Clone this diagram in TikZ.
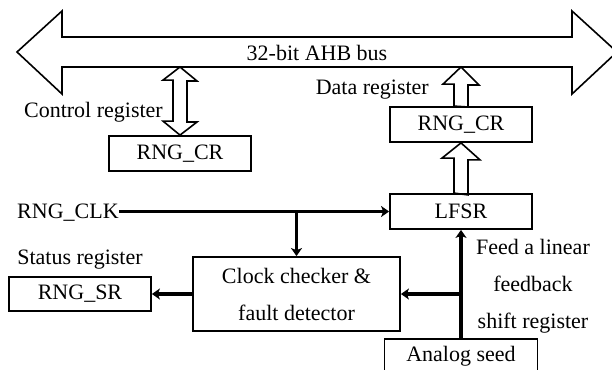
\documentclass[tikz,border=0pt]{standalone}
\usepackage{fontspec}
\setmainfont{Liberation Serif}
\usetikzlibrary{arrows.meta, positioning, calc}

\begin{document}
\begin{tikzpicture}[x=1pt, y=-1pt,
    font=\fontsize{22}{37}\selectfont,
    regbox/.style={draw, line width=1.8pt, minimum width=142pt, minimum height=35pt, inner sep=0pt, align=center},
    lbl/.style={inner sep=0pt, align=center},
    hollow/.style={draw, line width=1.6pt, line join=miter},
    conn/.style={line width=3.4pt, -{Stealth[length=8pt, width=11pt, inset=2pt]}}]
    \useasboundingbox (0,0) rectangle (612,369);

    % bus
    \draw[hollow] (17,52) -- (62,11) -- (62,37) -- (572,37) -- (572,11) -- (617,52) -- (572,94) -- (572,67) -- (62,67) -- (62,94) -- cycle;
    \node[lbl] (bus) at (317,53) {32-bit AHB bus};
    \coordinate (busbot) at (0,67);

    % registers and blocks
    \node[regbox] (ctrlcr) at (180,153.5) {RNG\_CR};
    \node[regbox] (datacr) at (461,124.5) {RNG\_CR};
    \node[regbox] (lfsr) at (461,211.5) {LFSR};
    \node[regbox, minimum width=207pt, minimum height=74pt] (checker) at (296.5,294) {Clock checker \&\\fault detector};
    \node[regbox, minimum height=34pt] (rngsr) at (80,294) {RNG\_SR};
    \node[regbox, minimum width=153pt] (seed) at (461,356.5) {Analog seed};

    % labels
    \node[lbl, anchor=east] (ctrllbl) at (163,112) {Control register};
    \node[lbl, anchor=east] (datalbl) at (429,90) {Data register};
    \node[lbl, above=7pt of rngsr] (statuslbl) {Status register};
    \node[lbl, anchor=west] (clk) at (17,213) {RNG\_CLK};
    \node[lbl] (feed) at (533,286) {Feed a linear\\feedback\\shift register};

    % bus arrows
    \draw[hollow] (ctrlcr.north) -- ++(-17,-14) -- ++(10,0) -- ++(0,-41) -- ++(-10,0) -- (ctrlcr.north |- busbot) -- ++(17,14) -- ++(-10,0) -- ++(0,41) -- ++(10,0) -- cycle;
    \draw[hollow] ([xshift=-7pt]datacr.north) -- ++(0,-22) -- ++(-11,0) -- (datacr.north |- busbot) -- ++(18,18) -- ++(-11,0) -- ++(0,22) -- cycle;
    \draw[hollow] ([xshift=-7pt]lfsr.north) -- ++(0,-35) -- ++(-12,0) -- (datacr.south) -- ++(19,17) -- ++(-12,0) -- ++(0,35) -- cycle;

    % signal lines
    \coordinate (clkjoin) at (checker.north |- lfsr.west);
    \coordinate (seedjoin) at (seed.north |- checker.east);
    \draw[conn] (clk.east |- lfsr.west) -- (lfsr.west);
    \draw[conn] (clkjoin) -- (checker.north);
    \draw[conn] (seed.north) -- (lfsr.south);
    \draw[conn] (seedjoin) -- (checker.east);
    \draw[conn] (checker.west) -- (rngsr.east);
\end{tikzpicture}
\end{document}
